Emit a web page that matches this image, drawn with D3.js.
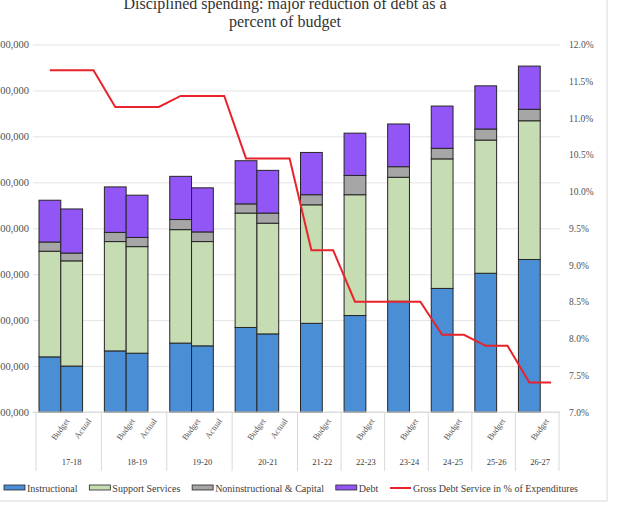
<!DOCTYPE html>
<html>
<head>
<meta charset="utf-8">
<script src="https://cdn.jsdelivr.net/npm/d3@7"></script>
<style>
  body { margin: 0; background: #fff; }
  svg { display: block; font-family: "Liberation Serif", "Times New Roman", serif; }
</style>
</head>
<body>
<div id="chart"></div>
<script>
// values
const years = ["17-18", "18-19", "19-20", "20-21", "21-22", "22-23", "23-24", "24-25", "25-26", "26-27"];
const barYear = ["17-18", "17-18", "18-19", "18-19", "19-20", "19-20", "20-21", "20-21", "21-22", "22-23", "23-24", "24-25", "25-26", "26-27"];
const barType = ["Budget", "Actual", "Budget", "Actual", "Budget", "Actual", "Budget", "Actual", "Budget", "Budget", "Budget", "Budget", "Budget", "Budget"];
const instructional = [1120000, 1100000, 1133000, 1128000, 1150000, 1144000, 1184000, 1170000, 1193000, 1210000, 1241000, 1269000, 1302000, 1332000];
const supportServices = [230000, 229000, 238000, 232000, 247000, 227000, 249000, 241000, 258000, 263000, 270000, 282000, 290000, 302000];
const nonInstructional = [20000, 17000, 20000, 20000, 22000, 21000, 20000, 22000, 22000, 42000, 23000, 23000, 24000, 25000];
const debt = [91000, 96000, 99000, 92000, 94000, 96000, 94000, 93000, 92000, 92000, 93000, 92000, 94000, 94000];
// one value per axis slot (spacer slots included)
const debtPct = [11.65, 11.65, 11.65, 11.15, 11.15, 11.15, 11.3, 11.3, 11.3, 10.45, 10.45, 10.45,
                 9.2, 9.2, 8.5, 8.5, 8.5, 8.5, 8.05, 8.05, 7.9, 7.9, 7.4, 7.4];
const leftTicks = [1000000, 1100000, 1200000, 1300000, 1400000, 1500000, 1600000, 1700000, 1800000];
const rightTicks = [7, 7.5, 8, 8.5, 9, 9.5, 10, 10.5, 11, 11.5, 12];

const seriesNames = ["Instructional", "Support Services", "Noninstructional & Capital", "Debt"];
const colors = ["#4a8ed6", "#c6dcb2", "#a6a6a6", "#9156f5"];
const lineName = "Gross Debt Service in % of Expenditures";

const width = 622, height = 508;
const plot = { left: 33, right: 560, top: 44.5, bottom: 412 };

// slots: each year's bars plus a spacer
let slots = [];
years.forEach(y => {
  barYear.forEach((by, i) => { if (by === y) slots.push({ key: y + "|" + barType[i], year: y, type: barType[i] }); });
  slots.push({ key: y + "|gap", year: y, type: "" });
});

const bars = barYear.map((y, i) => ({
  key: y + "|" + barType[i],
  "Instructional": instructional[i],
  "Support Services": supportServices[i],
  "Noninstructional & Capital": nonInstructional[i],
  "Debt": debt[i]
}));

const svg = d3.select("#chart").append("svg")
  .attr("width", width)
  .attr("height", height);

svg.append("rect")
  .attr("x", -1).attr("y", -1)
  .attr("width", 608).attr("height", 502)
  .attr("fill", "none").attr("stroke", "#d9d9d9");

const x = d3.scaleBand()
  .domain(slots.map(d => d.key))
  .range([39, 562])
  .padding(0);

const yLeft = d3.scaleLinear().domain([1000000, 1800000]).range([plot.bottom, plot.top]);
const yRight = d3.scaleLinear().domain([7, 12]).range([plot.bottom, plot.top]);

// gridlines
svg.append("g")
  .attr("class", "gridlines")
  .attr("transform", `translate(${plot.left}, 0)`)
  .call(d3.axisLeft(yLeft).tickValues(leftTicks).tickFormat("").tickSize(-(plot.right - plot.left)))
  .call(g => g.select(".domain").remove())
  .call(g => g.selectAll("line").attr("stroke", "#e3e3e3"));

// left axis labels (clipped by the left edge, as in the source)
svg.append("g")
  .attr("transform", `translate(29, 0)`)
  .call(d3.axisLeft(yLeft).tickValues(leftTicks).tickSize(0).tickPadding(0).tickFormat(d3.format(",")))
  .call(g => g.select(".domain").remove())
  .call(g => g.selectAll("text")
    .attr("font-family", "Liberation Serif").attr("font-size", 10.5).attr("fill", "#505050"));

// right axis labels
svg.append("g")
  .attr("transform", `translate(569, 0)`)
  .call(d3.axisRight(yRight).tickValues(rightTicks).tickSize(0).tickPadding(0).tickFormat(d => d.toFixed(1) + "%"))
  .call(g => g.select(".domain").remove())
  .call(g => g.selectAll("text")
    .attr("font-family", "Liberation Serif").attr("font-size", 9.5).attr("fill", "#505050"));

// stacked bars
const stacked = d3.stack().keys(seriesNames)(bars);
const yMin = yLeft.domain()[0];

svg.append("g").attr("class", "bars")
  .selectAll("g")
  .data(stacked)
  .join("g")
  .attr("fill", (d, i) => colors[i])
  .selectAll("rect")
  .data(d => d)
  .join("rect")
  .attr("x", d => x(d.data.key))
  .attr("width", x.bandwidth())
  .attr("y", d => yLeft(d[1]))
  .attr("height", d => yLeft(Math.max(d[0], yMin)) - yLeft(d[1]))
  .attr("stroke", "#262626")
  .attr("stroke-width", 1);

// x axis line and group separators
svg.append("line")
  .attr("x1", plot.left).attr("x2", plot.right)
  .attr("y1", plot.bottom).attr("y2", plot.bottom)
  .attr("stroke", "#d9d9d9");

const groupBounds = years.map(y => {
  const ks = slots.filter(s => s.year === y);
  return { year: y, x0: x(ks[0].key), x1: x(ks[ks.length - 1].key) + x.bandwidth() };
});

svg.append("g").selectAll("line")
  .data([groupBounds[0].x0].concat(groupBounds.map(d => d.x1)))
  .join("line")
  .attr("x1", d => d - 3).attr("x2", d => d - 3)
  .attr("y1", plot.bottom).attr("y2", 471)
  .attr("stroke", "#d9d9d9");

// rotated sub labels
svg.append("g").selectAll("text")
  .data(slots.filter(s => s.type !== ""))
  .join("text")
  .attr("transform", d => `translate(${x(d.key) + x.bandwidth() / 2 + 20}, 421) rotate(-54)`)
  .attr("text-anchor", "end")
  .attr("font-size", 8.5)
  .attr("fill", "#595959")
  .text(d => d.type);

// year labels
svg.append("g").selectAll("text")
  .data(groupBounds)
  .join("text")
  .attr("x", d => (d.x0 + d.x1) / 2)
  .attr("y", 465)
  .attr("text-anchor", "middle")
  .attr("font-size", 8.5)
  .attr("fill", "#404040")
  .text(d => d.year);

// debt service line
const line = d3.line()
  .x((d, i) => x(slots[i].key) + x.bandwidth() / 2)
  .y(d => yRight(d));

svg.append("path")
  .datum(debtPct)
  .attr("d", line)
  .attr("fill", "none")
  .attr("stroke", "#e8232b")
  .attr("stroke-width", 2);

// title
const title = svg.append("text")
  .attr("text-anchor", "middle")
  .attr("font-size", 16)
  .attr("fill", "#333");
title.append("tspan").attr("x", 285).attr("y", 9).text("Disciplined spending: major reduction of debt as a");
title.append("tspan").attr("x", 285).attr("y", 27).text("percent of budget");

// legend, spread across the bottom like the source
const legend = svg.append("g").attr("transform", "translate(4, 488)");
const items = seriesNames.concat([lineName]).map((name, i) => {
  const item = legend.append("g");
  if (i < 4) {
    item.append("rect")
      .attr("x", 0).attr("y", -3).attr("width", 21).attr("height", 5)
      .attr("fill", colors[i]).attr("stroke", "#262626").attr("stroke-width", 0.8);
  } else {
    item.append("line")
      .attr("x1", 0).attr("x2", 21).attr("y1", 0).attr("y2", 0)
      .attr("stroke", "#e8232b").attr("stroke-width", 2);
  }
  const t = item.append("text")
    .attr("x", 23).attr("y", 3.5)
    .attr("font-size", 10)
    .attr("fill", "#404040")
    .text(name);
  return { item, w: 23 + t.node().getComputedTextLength() };
});
const total = d3.sum(items, d => d.w);
const gap = Math.max(4, (574 - total) / (items.length - 1));
let lx = 0;
items.forEach(d => {
  d.item.attr("transform", `translate(${lx}, 0)`);
  lx += d.w + gap;
});
</script>
</body>
</html>
